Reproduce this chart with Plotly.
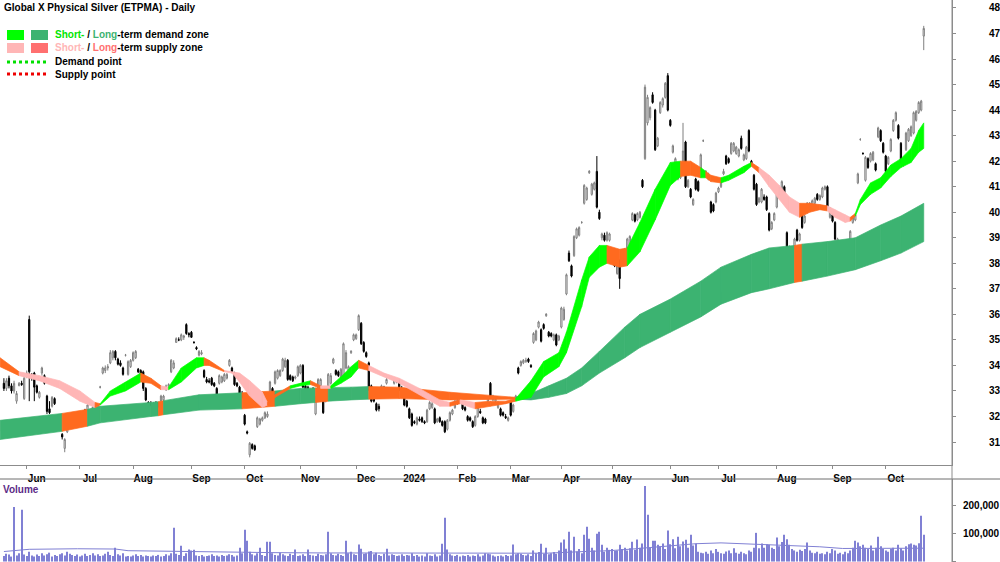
import plotly.graph_objects as go
import pandas as pd

# ---------------- DATA ----------------
START_DATE = "2023-05-19"
END_DATE = "2024-10-22"
ASX_HOLIDAYS = ["2023-06-12", "2023-12-25", "2023-12-26", "2024-01-01", "2024-01-26",
                "2024-03-29", "2024-04-01", "2024-04-25", "2024-06-10"]

month_starts = ["2023-06-01", "2023-07-01", "2023-08-01", "2023-09-01", "2023-10-01",
                "2023-11-01", "2023-12-01", "2024-01-01", "2024-02-01", "2024-03-01",
                "2024-04-01", "2024-05-01", "2024-06-01", "2024-07-01", "2024-08-01",
                "2024-09-01", "2024-10-01"]
month_labels = ["Jun", "Jul", "Aug", "Sep", "Oct", "Nov", "Dec", "2024", "Feb", "Mar",
                "Apr", "May", "Jun", "Jul", "Aug", "Sep", "Oct"]

price_ticks = list(range(31, 49))
volume_ticks = [0, 100, 200]            # thousands
volume_tick_labels = ["0", "100,000", "200,000"]

opens = [
    33.3, 33.1, 33.5, 33.2, 33.0, 32.6, 33.2, 33.3, 32.7, 33.6,
    35.8, 33.6, 33.7, 33.2, 32.75, 33.7, 33.6, 32.8, 32.3, 32.4,
    32.7, 31.85, 31.7, 31.3, 30.75, 31.4, 31.6, 31.75, 31.9, 31.95,
    32.0, 32.1, 32.25, 32.25, 32.05, 32.2, 32.25, 32.3, 33.15, 33.7,
    33.8, 33.9, 34.1, 34.3, 34.55, 34.25, 34.1, 33.9, 34.4, 33.65,
    33.95, 34.2, 34.3, 33.85, 33.8, 33.75, 33.1, 32.55, 32.5, 32.5,
    32.55, 32.5, 32.6, 32.65, 33.05, 33.2, 33.75, 33.9, 34.9, 35.0,
    35.0, 35.1, 35.6, 35.25, 35.3, 34.9, 34.7, 34.4, 34.45, 33.8,
    33.45, 33.4, 33.5, 33.3, 33.1, 33.3, 33.35, 33.4, 33.5, 34.0,
    33.9, 33.7, 33.3, 33.15, 32.9, 32.05, 31.4, 30.5, 30.9, 30.85,
    31.6, 31.7, 31.85, 31.95, 32.0, 32.75, 33.1, 33.3, 33.5, 33.6,
    33.8, 33.95, 34.2, 33.6, 33.55, 33.5, 33.6, 33.7, 34.0, 33.2,
    33.15, 33.0, 33.1, 32.1, 33.1, 33.2, 33.1, 32.6, 33.2, 33.3,
    34.1, 33.8, 33.75, 33.5, 33.55, 33.9, 33.8, 34.5, 35.0, 35.05,
    35.4, 35.65, 34.9, 34.5, 34.1, 33.2, 32.7, 32.5, 32.4, 33.0,
    33.1, 33.3, 33.1, 33.05, 33.3, 33.35, 33.4, 33.1, 32.8, 32.6,
    32.3, 32.1, 31.8, 31.7, 31.9, 31.95, 31.8, 31.8, 32.3, 32.35,
    32.3, 31.8, 31.95, 31.8, 31.8, 31.5, 31.85, 32.1, 32.35, 32.5,
    32.55, 32.55, 32.35, 32.0, 31.95, 31.8, 31.65, 32.0, 32.2, 31.95,
    31.9, 32.6, 33.3, 32.65, 32.6, 32.35, 32.3, 32.15, 32.0, 31.85,
    32.6, 32.2, 32.7, 33.9, 34.0, 34.1, 34.15, 34.25, 34.0, 34.9,
    35.0, 35.5, 35.4, 35.6, 35.95, 35.3, 35.25, 35.0, 35.2, 35.0,
    35.5, 35.8, 36.8, 38.4, 37.9, 38.3, 39.0, 39.1, 39.6, 40.35,
    40.5, 41.55, 40.7, 40.9, 41.6, 40.0, 39.0, 39.1, 38.9, 38.9,
    38.4, 38.1, 37.6, 38.1, 38.2, 38.3, 38.6, 38.7, 39.7, 39.9,
    39.7, 39.8, 41.25, 42.1, 43.5, 43.7, 44.6, 44.0, 42.6, 43.9,
    44.2, 44.5, 45.35, 43.6, 42.35, 41.8, 41.3, 41.35, 41.9, 42.75,
    41.0, 40.9, 40.3, 41.3, 41.2, 41.65, 42.8, 41.4, 41.3, 40.4,
    40.3, 40.4, 40.8, 41.0, 41.5, 42.2, 42.1, 42.3, 42.4, 42.3,
    42.2, 42.9, 42.05, 42.1, 43.2, 42.0, 41.45, 41.1, 40.4, 40.4,
    40.6, 40.6, 39.95, 39.35, 39.7, 40.2, 40.7, 40.8, 41.0, 39.2,
    38.0, 38.0, 38.6, 39.3, 38.9, 40.1, 39.6, 40.0, 40.1, 40.3,
    40.35, 40.7, 40.5, 40.6, 40.9, 41.0, 39.8, 39.9, 39.6, 38.8,
    38.7, 38.6, 38.7, 38.8, 38.9, 39.6, 39.7, 41.15, 42.85, 42.3,
    41.25, 42.1, 42.0, 42.05, 41.9, 42.95, 43.2, 42.7, 42.2, 41.9,
    42.4, 43.2, 43.6, 43.4, 42.7, 42.1, 42.45, 42.8, 43.0, 43.1,
    43.6, 43.9, 44.0, 46.9]

highs = [
    33.5, 33.5, 33.6, 33.3, 33.4, 33.0, 33.35, 33.4, 33.6, 33.8,
    35.95, 33.7, 33.75, 33.25, 33.0, 33.95, 33.65, 32.85, 32.6, 32.8,
    32.75, 31.9, 31.75, 31.35, 31.15, 31.85, 31.8, 32.15, 32.1, 32.2,
    32.15, 32.2, 32.3, 32.5, 32.1, 32.4, 32.5, 32.5, 33.2, 33.95,
    34.0, 34.05, 34.6, 34.6, 34.6, 34.3, 34.2, 33.95, 34.45, 34.2,
    34.25, 34.55, 34.6, 33.9, 33.85, 33.8, 33.15, 32.6, 32.6, 32.55,
    32.6, 32.55, 32.85, 32.85, 33.25, 33.3, 34.25, 34.2, 35.1, 35.1,
    35.25, 35.2, 35.65, 35.3, 35.35, 34.95, 34.75, 34.6, 34.6, 33.85,
    33.55, 33.5, 33.55, 33.35, 33.15, 33.65, 33.6, 33.7, 33.7, 34.25,
    33.95, 33.75, 33.35, 33.2, 33.0, 32.1, 31.45, 31.0, 30.95, 30.9,
    32.0, 31.95, 32.0, 32.2, 32.2, 33.4, 33.15, 33.8, 33.85, 33.85,
    34.3, 34.3, 34.25, 33.65, 33.6, 33.6, 34.0, 34.05, 34.05, 33.25,
    33.2, 33.1, 33.15, 32.8, 33.5, 33.5, 33.15, 32.9, 33.7, 33.7,
    34.3, 33.85, 33.8, 33.9, 34.9, 34.6, 34.0, 34.6, 35.25, 35.25,
    36.0, 35.7, 34.95, 34.55, 34.15, 33.25, 32.8, 32.55, 32.5, 33.25,
    33.2, 33.5, 33.15, 33.1, 33.5, 33.5, 33.45, 33.2, 32.85, 32.65,
    32.35, 32.15, 31.85, 32.0, 32.0, 32.0, 31.85, 32.3, 32.6, 32.6,
    32.35, 31.95, 32.0, 31.85, 31.85, 31.9, 32.2, 32.3, 32.65, 32.7,
    32.65, 32.6, 32.4, 32.05, 32.0, 31.85, 32.05, 32.4, 32.3, 32.0,
    31.95, 32.8, 33.35, 32.85, 32.75, 32.6, 32.35, 32.2, 32.1, 32.0,
    32.65, 32.5, 32.85, 33.95, 34.2, 34.25, 34.3, 34.3, 34.05, 35.3,
    35.4, 35.75, 35.45, 35.65, 36.05, 35.35, 35.3, 35.25, 35.25, 35.2,
    36.3, 36.3, 37.6, 38.5, 37.95, 39.1, 39.4, 39.45, 39.65, 41.1,
    41.0, 41.65, 41.15, 41.2, 42.2, 40.1, 39.2, 39.2, 39.25, 39.2,
    38.45, 38.15, 37.95, 38.15, 38.45, 38.6, 39.0, 39.1, 40.0, 39.95,
    40.0, 40.05, 41.3, 45.0, 44.6, 44.15, 44.7, 44.05, 42.95, 44.35,
    44.5, 45.1, 45.45, 43.65, 42.65, 42.15, 41.45, 41.5, 43.5, 42.8,
    41.3, 40.95, 40.55, 41.35, 41.25, 42.3, 42.85, 41.65, 41.55, 40.45,
    40.35, 40.8, 41.0, 41.25, 41.7, 42.25, 42.15, 42.75, 42.75, 42.6,
    42.5, 43.0, 42.3, 42.6, 43.25, 42.05, 41.5, 41.15, 40.6, 40.95,
    40.7, 40.65, 40.0, 39.65, 40.0, 40.95, 41.0, 41.25, 41.05, 39.25,
    38.7, 38.05, 39.0, 39.35, 39.2, 40.15, 39.9, 40.4, 40.4, 40.5,
    40.6, 40.75, 40.7, 41.0, 41.05, 41.05, 40.2, 39.95, 39.65, 39.0,
    38.75, 38.85, 38.8, 38.85, 39.3, 39.85, 39.95, 41.55, 42.9, 42.35,
    42.2, 42.15, 42.35, 42.4, 41.95, 43.35, 43.25, 42.75, 42.25, 42.2,
    42.9, 43.65, 43.95, 43.45, 42.75, 42.15, 43.15, 43.3, 43.4, 43.95,
    44.0, 44.35, 44.4, 47.3]

lows = [
    33.0, 33.0, 33.1, 32.9, 32.9, 32.5, 33.2, 33.2, 32.65, 33.5,
    32.6, 33.4, 32.6, 32.9, 32.7, 33.6, 33.25, 32.1, 32.1, 32.35,
    32.45, 31.75, 31.6, 31.1, 30.6, 31.35, 31.5, 31.7, 31.85, 31.9,
    31.95, 32.0, 32.0, 32.2, 31.85, 32.15, 32.2, 32.25, 33.1, 33.65,
    33.7, 33.8, 34.05, 34.2, 34.2, 34.0, 33.95, 33.6, 34.35, 33.6,
    33.9, 34.15, 34.25, 33.7, 33.6, 33.0, 32.6, 32.35, 32.4, 32.35,
    32.3, 32.35, 32.55, 32.6, 33.0, 33.15, 33.7, 33.85, 34.9, 34.95,
    34.95, 35.0, 35.2, 35.1, 35.1, 34.85, 34.6, 34.35, 34.4, 33.5,
    33.3, 33.3, 33.2, 33.15, 32.7, 33.25, 33.3, 33.35, 33.45, 33.95,
    33.7, 33.2, 33.15, 32.75, 32.7, 31.65, 31.3, 30.4, 30.7, 30.65,
    31.55, 31.65, 31.8, 31.9, 31.95, 32.7, 32.9, 33.25, 33.45, 33.55,
    33.75, 33.9, 33.4, 33.4, 33.35, 33.45, 33.55, 33.65, 33.1, 32.95,
    32.9, 32.95, 32.95, 32.05, 33.05, 33.15, 32.1, 32.55, 33.15, 33.25,
    34.05, 33.6, 33.55, 33.45, 33.5, 33.85, 33.75, 34.45, 34.95, 35.0,
    35.35, 34.8, 34.5, 34.3, 33.0, 32.55, 32.55, 32.2, 32.2, 32.95,
    33.0, 33.25, 32.95, 32.95, 33.25, 33.3, 33.0, 33.0, 32.4, 32.35,
    31.9, 31.6, 31.7, 31.65, 31.8, 31.75, 31.7, 31.75, 32.25, 32.3,
    31.7, 31.75, 31.75, 31.6, 31.35, 31.45, 31.8, 32.05, 32.3, 32.45,
    32.5, 32.25, 32.2, 31.8, 31.8, 31.55, 31.6, 31.95, 32.1, 31.7,
    31.7, 32.55, 32.75, 32.6, 32.55, 32.3, 32.0, 32.0, 31.9, 31.8,
    32.0, 32.15, 32.65, 33.65, 33.95, 34.05, 34.1, 34.1, 33.9, 34.85,
    34.95, 35.45, 34.9, 35.4, 35.9, 35.1, 35.1, 34.95, 34.75, 34.95,
    35.45, 35.75, 36.75, 38.05, 37.45, 38.25, 38.95, 39.05, 39.55, 40.3,
    40.45, 41.5, 40.65, 40.85, 40.15, 39.7, 38.9, 38.85, 38.85, 38.85,
    38.0, 37.85, 37.55, 37.0, 38.15, 38.25, 38.55, 38.65, 39.65, 39.6,
    39.65, 39.75, 40.95, 42.05, 43.4, 43.6, 44.25, 42.4, 42.55, 43.85,
    44.1, 44.45, 43.95, 43.35, 42.3, 41.75, 41.25, 41.3, 41.85, 40.95,
    40.95, 40.55, 40.25, 40.85, 40.8, 41.6, 42.75, 41.35, 41.25, 39.95,
    40.0, 40.35, 40.75, 40.95, 41.45, 41.85, 41.9, 42.25, 42.35, 42.25,
    42.15, 42.45, 42.0, 42.05, 42.35, 41.85, 40.85, 40.25, 40.35, 40.35,
    40.45, 40.05, 39.25, 39.3, 39.65, 40.15, 40.65, 40.75, 40.3, 38.2,
    37.95, 37.95, 38.55, 38.85, 38.85, 39.35, 39.55, 39.95, 40.05, 40.25,
    40.3, 40.45, 40.45, 40.55, 40.85, 40.15, 39.75, 39.6, 38.9, 38.75,
    38.45, 38.55, 38.6, 38.35, 38.85, 39.55, 39.65, 41.1, 42.8, 42.25,
    41.2, 41.7, 41.95, 42.0, 41.6, 42.9, 42.75, 42.3, 41.55, 41.85,
    42.35, 43.15, 43.55, 42.85, 41.9, 41.8, 42.4, 42.75, 42.95, 43.05,
    43.55, 43.85, 43.95, 46.35]

closes = [
    33.1, 33.4, 33.2, 33.0, 33.3, 32.9, 33.3, 33.25, 33.5, 33.7,
    33.75, 33.5, 33.15, 32.95, 32.95, 33.9, 33.3, 32.2, 32.15, 32.75,
    32.5, 31.8, 31.65, 31.2, 31.1, 31.8, 31.75, 32.1, 32.05, 32.1,
    32.1, 32.15, 32.0, 32.45, 31.9, 32.35, 32.4, 32.45, 33.15, 33.9,
    33.9, 33.95, 34.5, 34.55, 34.3, 34.05, 34.0, 33.65, 34.4, 34.15,
    34.2, 34.5, 34.55, 33.75, 33.65, 33.1, 32.65, 32.45, 32.45, 32.4,
    32.35, 32.4, 32.8, 32.8, 33.2, 33.25, 34.2, 34.1, 35.05, 35.0,
    35.2, 35.15, 35.25, 35.2, 35.1, 34.9, 34.65, 34.55, 34.5, 33.55,
    33.35, 33.35, 33.25, 33.2, 32.75, 33.6, 33.55, 33.65, 33.65, 34.2,
    33.75, 33.25, 33.2, 32.8, 32.75, 31.7, 31.35, 30.95, 30.75, 30.7,
    31.95, 31.9, 31.95, 32.15, 32.1, 33.35, 32.95, 33.75, 33.8, 33.8,
    34.25, 34.2, 33.45, 33.45, 33.4, 33.55, 33.95, 34.0, 33.15, 33.0,
    32.95, 33.05, 33.0, 32.75, 33.45, 33.45, 32.15, 32.85, 33.65, 33.6,
    34.25, 33.65, 33.6, 33.85, 34.85, 34.5, 33.95, 34.55, 35.2, 35.2,
    35.95, 34.85, 34.55, 34.35, 33.05, 32.6, 32.6, 32.25, 32.3, 33.2,
    33.05, 33.45, 33.0, 33.0, 33.45, 33.45, 33.05, 33.05, 32.45, 32.4,
    31.95, 31.65, 31.75, 31.95, 31.85, 31.8, 31.75, 32.25, 32.55, 32.5,
    31.75, 31.9, 31.8, 31.65, 31.4, 31.85, 32.15, 32.25, 32.6, 32.65,
    32.6, 32.3, 32.25, 31.85, 31.85, 31.6, 32.0, 32.35, 32.15, 31.75,
    31.75, 32.75, 32.8, 32.8, 32.7, 32.55, 32.05, 32.05, 31.95, 31.95,
    32.05, 32.45, 32.8, 33.7, 34.15, 34.2, 34.2, 34.15, 33.95, 35.25,
    35.35, 35.7, 34.95, 35.45, 36.0, 35.15, 35.15, 35.2, 34.8, 35.15,
    36.25, 36.2, 37.55, 38.1, 37.5, 39.05, 39.35, 39.4, 39.6, 41.05,
    40.95, 41.6, 41.1, 41.15, 40.2, 39.75, 39.15, 38.9, 39.2, 39.15,
    38.05, 37.9, 37.9, 37.4, 38.4, 38.55, 38.95, 39.05, 39.95, 39.65,
    39.95, 40.0, 41.0, 44.9, 44.5, 44.1, 44.3, 42.45, 42.9, 44.3,
    44.45, 45.05, 44.0, 43.4, 42.6, 42.1, 41.4, 41.45, 42.4, 41.0,
    41.25, 40.6, 40.5, 40.9, 40.85, 42.25, 42.8, 41.6, 41.5, 40.0,
    40.05, 40.75, 40.95, 41.2, 41.6, 41.9, 41.95, 42.7, 42.7, 42.55,
    42.45, 42.5, 42.25, 42.55, 42.4, 41.9, 40.9, 40.3, 40.55, 40.9,
    40.5, 40.1, 39.3, 39.6, 39.95, 40.9, 40.95, 41.2, 40.35, 38.25,
    38.65, 38.0, 38.95, 38.9, 39.15, 39.4, 39.85, 40.35, 40.35, 40.45,
    40.55, 40.5, 40.65, 40.95, 41.0, 40.2, 40.15, 39.65, 38.95, 38.95,
    38.5, 38.8, 38.65, 38.4, 39.25, 39.8, 39.9, 41.5, 42.85, 42.3,
    42.15, 41.75, 42.3, 42.35, 41.65, 43.3, 42.8, 42.35, 41.6, 42.15,
    42.85, 43.6, 43.9, 42.9, 41.95, 41.85, 43.1, 43.25, 43.35, 43.9,
    43.95, 44.3, 44.35, 47.2]

# volume in thousands of units
volumes_k = [
    20, 28, 25, 18, 196, 22, 30, 186, 25, 20,
    35, 22, 18, 25, 20, 30, 22, 26, 32, 18,
    24, 20, 26, 30, 22, 35, 28, 24, 20, 25,
    18, 22, 28, 20, 24, 30, 22, 26, 20, 22,
    28, 35, 24, 20, 50, 26, 22, 30, 18, 20,
    18, 22, 26, 20, 24, 18, 22, 20, 18, 22,
    20, 24, 18, 20, 26, 22, 30, 121, 28, 24,
    57, 20, 30, 43, 40, 42, 22, 20, 24, 18,
    20, 22, 26, 20, 22, 18, 24, 20, 22, 26,
    24, 18, 22, 50, 30, 114, 75, 35, 26, 22,
    30, 50, 24, 20, 71, 71, 30, 24, 22, 32,
    26, 22, 20, 28, 24, 43, 20, 22, 26, 20,
    43, 24, 22, 20, 28, 24, 22, 26, 107, 30,
    24, 22, 28, 24, 20, 75, 30, 35, 26, 24,
    61, 46, 28, 30, 36, 38, 26, 32, 24, 20,
    28, 46, 22, 26, 24, 20, 22, 26, 20, 24,
    22, 30, 20, 24, 18, 22, 18, 30, 22, 20,
    26, 18, 22, 64, 157, 43, 26, 22, 20, 24,
    18, 22, 20, 24, 18, 22, 20, 26, 18, 22,
    30, 28, 26, 22, 18, 20, 22, 18, 24, 20,
    22, 61, 26, 30, 28, 24, 22, 26, 20, 40,
    30, 34, 64, 28, 50, 26, 30, 34, 28, 40,
    68, 79, 46, 107, 40, 89, 36, 45, 30, 96,
    125, 82, 50, 40, 100, 107, 60, 35, 50, 42,
    45, 38, 40, 60, 45, 50, 40, 48, 71, 42,
    79, 50, 65, 271, 168, 50, 75, 75, 60, 55,
    65, 45, 111, 62, 80, 48, 89, 55, 72, 78,
    50, 96, 58, 65, 35, 32, 30, 35, 28, 40,
    30, 45, 35, 30, 28, 36, 40, 30, 48, 32,
    28, 35, 30, 26, 40, 35, 50, 103, 48, 65,
    50, 62, 60, 50, 45, 86, 55, 70, 96, 80,
    60, 45, 40, 35, 42, 38, 45, 68, 40, 32,
    30, 35, 28, 30, 26, 35, 30, 45, 40, 28,
    32, 26, 35, 30, 40, 50, 75, 68, 55, 60,
    50, 45, 58, 40, 50, 89, 55, 45, 40, 35,
    45, 50, 40, 60, 48, 40, 55, 62, 65, 60,
    58, 66, 164, 96]

# volume moving-average line, sampled (bar index, thousands)
vol_ma_idx = [0, 10, 29, 44, 49, 68, 88, 107, 126, 146, 165, 185, 200, 214, 229,
              239, 248, 255, 263, 273, 283, 292, 302, 312, 322, 331, 341, 351, 363]
vol_ma_val = [36, 44, 46, 45, 39, 36, 33, 32, 31, 31, 30, 30, 29, 30, 36,
              39, 45, 50, 58, 64, 67, 64, 62, 57, 53, 47, 48, 48, 48]

# Short-term zone (bar index, upper, lower, zone type of following segment)
st_idx = [-1.5, 6, 14, 22, 30, 36, 38, 42, 48, 54, 58, 62, 65, 70, 76, 79, 81, 87, 90,
          93, 97, 102, 104, 107, 113, 117, 121, 125, 129, 133, 137, 140, 144, 150,
          156, 164, 172, 176, 180, 186, 192, 198, 202, 208, 213, 219, 222, 228, 231,
          235, 238, 243, 246, 251, 257, 263, 267, 271, 275, 277, 279, 283, 286, 292,
          295, 298, 302, 306, 310, 314, 318, 322, 325, 328, 332, 334, 336, 338, 342,
          346, 350, 354, 358, 361, 363]
st_top = [34.3, 33.75, 33.6, 33.4, 33.0, 32.55, 32.5, 33.0, 33.35, 33.7, 33.5, 33.2,
          33.15, 33.9, 34.3, 34.3, 34.2, 33.8, 33.75, 33.7, 33.4, 32.95, 32.55, 32.85,
          33.2, 33.3, 33.4, 33.2, 33.2, 33.55, 33.95, 34.2, 34.0, 33.7, 33.5, 33.1,
          32.65, 32.55, 32.65, 32.55, 32.6, 32.6, 32.7, 33.4, 34.15, 34.5, 35.3, 37.35,
          38.25, 38.7, 38.7, 38.55, 38.6, 39.6, 40.9, 41.95, 42.0, 42.0, 41.75, 41.6,
          41.45, 41.35, 41.45, 41.8, 41.95, 41.75, 41.45, 41.05, 40.6, 40.35, 40.35,
          40.3, 40.25, 40.1, 39.9, 39.8, 39.95, 40.5, 41.15, 41.35, 41.85, 42.1, 42.5,
          43.2, 43.5]
st_bot = [33.95, 33.6, 33.4, 33.1, 32.6, 32.35, 32.45, 32.8, 33.0, 33.35, 33.3, 33.05,
          33.05, 33.35, 33.9, 34.0, 34.0, 33.75, 33.7, 33.35, 32.8, 32.35, 32.45, 32.75,
          33.1, 33.2, 33.25, 33.1, 33.1, 33.3, 33.55, 33.9, 33.8, 33.55, 33.3, 32.85,
          32.4, 32.4, 32.5, 32.3, 32.4, 32.5, 32.6, 32.75, 33.55, 33.95, 34.5, 36.3,
          37.45, 37.85, 38.0, 37.85, 37.9, 38.45, 39.7, 41.05, 41.4, 41.45, 41.35,
          41.35, 41.2, 41.15, 41.25, 41.55, 41.8, 41.55, 41.0, 40.5, 40.0, 39.8, 40.0,
          40.1, 40.05, 39.8, 39.6, 39.65, 39.85, 40.3, 40.7, 40.95, 41.4, 41.75, 41.95,
          42.35, 42.5]
st_zone = ["o", "p", "p", "p", "p", "o", "g", "g", "g", "o", "o", "p", "g", "g", "g",
           "o", "o", "p", "p", "p", "p", "p", "o", "o", "g", "g", "o", "p", "g", "g",
           "g", "o", "p", "p", "p", "p", "p", "o", "p", "o", "o", "o", "g", "g", "g",
           "g", "g", "g", "g", "g", "o", "o", "g", "g", "g", "g", "o", "o", "g", "o",
           "o", "g", "g", "g", "o", "p", "p", "p", "p", "o", "o", "o", "p", "p", "p",
           "o", "g", "g", "g", "g", "g", "g", "g", "g", "g"]

# Long-term zone
lt_idx = [-1.5, 23, 33, 38, 58, 61, 63, 77, 94, 107, 117, 123, 128, 137, 144, 156,
          176, 202, 208, 215, 222, 228, 235, 245, 251, 263, 275, 283, 295, 302, 312,
          315, 325, 336, 346, 354, 363]
lt_top = [31.85, 32.12, 32.28, 32.4, 32.55, 32.58, 32.62, 32.85, 32.93, 33.0, 33.1,
          33.12, 33.13, 33.15, 33.17, 33.15, 32.95, 32.75, 32.9, 33.2, 33.5, 33.9,
          34.55, 35.5, 36.0, 36.6, 37.3, 37.85, 38.35, 38.6, 38.7, 38.75, 38.85, 39.0,
          39.5, 39.85, 40.35]
lt_bot = [31.1, 31.42, 31.62, 31.75, 32.0, 32.03, 32.07, 32.25, 32.3, 32.4, 32.5,
          32.55, 32.6, 32.65, 32.68, 32.7, 32.65, 32.68, 32.65, 32.75, 32.9, 33.2,
          33.7, 34.3, 34.7, 35.3, 35.9, 36.4, 36.85, 37.0, 37.25, 37.3, 37.5, 37.75,
          38.1, 38.4, 38.85]
lt_zone = ["g", "o", "g", "g", "g", "o", "g", "g", "o", "g", "g", "o", "g", "g", "o",
           "o", "o", "g", "g", "g", "g", "g", "g", "g", "g", "g", "g", "g", "g", "g",
           "o", "g", "g", "g", "g", "g", "g"]

# ---------------- STYLE ----------------
FONT = "Liberation Sans, Arial, sans-serif"
SHORT_COL = {"g": "#00FF00", "p": "#FFB6B6", "o": "#FF6A1F"}
LONG_COL = {"g": "#3CB371", "o": "#FF6A1F"}
VOL_COL = "#8080D4"
W, H = 1000, 562
PLOT_W = 952


def px_x(p):
    return p / PLOT_W


def px_y(p):
    return 1 - p / H


# ---------------- BUILD ----------------
dates = [d for d in pd.bdate_range(START_DATE, END_DATE) if d.strftime("%Y-%m-%d") not in ASX_HOLIDAYS]
n = len(dates)
bars = list(range(n))
date_index = pd.DatetimeIndex(dates)
tick_pos = [int(date_index.searchsorted(pd.Timestamp(m))) for m in month_starts]

fig = go.Figure()


def add_band(xs, tops, bots, zones, cmap):
    for k in range(len(xs) - 1):
        c = cmap[zones[k]]
        fig.add_trace(go.Scatter(
            x=[xs[k], xs[k + 1], xs[k + 1], xs[k], xs[k]],
            y=[tops[k], tops[k + 1], bots[k + 1], bots[k], tops[k]],
            mode="lines", fill="toself", fillcolor=c,
            line=dict(color=c, width=0.7), hoverinfo="skip", showlegend=False,
            xaxis="x", yaxis="y"))


add_band(lt_idx, lt_top, lt_bot, lt_zone, LONG_COL)
add_band(st_idx, st_top, st_bot, st_zone, SHORT_COL)

fig.add_trace(go.Candlestick(
    x=bars, open=opens, high=highs, low=lows, close=closes,
    increasing=dict(line=dict(color="#7f7f7f", width=1), fillcolor="#FFFFFF"),
    decreasing=dict(line=dict(color="#000000", width=1), fillcolor="#000000"),
    whiskerwidth=0, showlegend=False, hoverinfo="skip", xaxis="x", yaxis="y"))

fig.add_trace(go.Bar(
    x=bars, y=volumes_k, marker=dict(color=VOL_COL, line=dict(width=0)),
    width=0.42, showlegend=False, hoverinfo="skip", xaxis="x2", yaxis="y2"))
fig.add_trace(go.Scatter(
    x=vol_ma_idx, y=vol_ma_val, mode="lines", line=dict(color=VOL_COL, width=1),
    showlegend=False, hoverinfo="skip", xaxis="x2", yaxis="y2"))

x_range = [(0 - 3.9) / 2.534, (PLOT_W - 3.9) / 2.534]
tickfont = dict(family=FONT, size=10, color="#000000", weight="bold")

fig.update_layout(
    width=W, height=H, autosize=False,
    margin=dict(l=0, r=W - PLOT_W, t=0, b=0),
    paper_bgcolor="#FFFFFF", plot_bgcolor="#FFFFFF",
    hovermode=False, showlegend=False,
    xaxis=dict(domain=[0, 1], range=x_range, anchor="y", showgrid=False, zeroline=False,
               showline=True, linecolor="#8c8c8c", linewidth=1,
               tickmode="array", tickvals=tick_pos, ticktext=month_labels,
               ticks="outside", ticklen=3, tickcolor="#8c8c8c",
               tickfont=tickfont, ticklabelshift=10, ticklabelstandoff=1,
               rangeslider=dict(visible=False), fixedrange=True),
    yaxis=dict(domain=[px_y(465), 1], range=[30.10, 48.313], side="right",
               showgrid=False, zeroline=False, showline=True, linecolor="#8c8c8c",
               tickmode="array", tickvals=price_ticks, ticks="outside", ticklen=3,
               tickcolor="#8c8c8c", tickfont=tickfont, ticklabelstandoff=31,
               fixedrange=True),
    xaxis2=dict(domain=[0, 1], range=x_range, anchor="y2", showgrid=False,
                zeroline=False, showline=False, showticklabels=False, ticks="",
                fixedrange=True),
    yaxis2=dict(domain=[0, px_y(479)], range=[-1.5, 296], side="right", anchor="x2",
                showgrid=False, zeroline=False, showline=True, linecolor="#8c8c8c",
                tickmode="array", tickvals=volume_ticks, ticktext=volume_tick_labels,
                ticks="outside", ticklen=3, tickcolor="#8c8c8c", tickfont=tickfont,
                ticklabelstandoff=5, fixedrange=True),
)

shapes = [
    # separator above volume panel (full width)
    dict(type="line", xref="paper", yref="paper", x0=0, x1=W / PLOT_W,
         y0=px_y(479), y1=px_y(479), line=dict(color="#6e6e6e", width=1)),
    # right axis line across the gap
    dict(type="line", xref="paper", yref="paper", x0=1, x1=1, y0=0, y1=1,
         line=dict(color="#8c8c8c", width=1)),
    # legend boxes
    dict(type="rect", xref="paper", yref="paper", x0=px_x(7), x1=px_x(24),
         y0=px_y(40), y1=px_y(30), fillcolor="#00FF00", line=dict(width=0)),
    dict(type="rect", xref="paper", yref="paper", x0=px_x(31), x1=px_x(48),
         y0=px_y(40), y1=px_y(30), fillcolor="#3CB371", line=dict(width=0)),
    dict(type="rect", xref="paper", yref="paper", x0=px_x(7), x1=px_x(24),
         y0=px_y(53), y1=px_y(43), fillcolor="#FFB6B6", line=dict(width=0)),
    dict(type="rect", xref="paper", yref="paper", x0=px_x(31), x1=px_x(48),
         y0=px_y(53), y1=px_y(43), fillcolor="#FF7070", line=dict(width=0)),
    dict(type="line", xref="paper", yref="paper", x0=px_x(7), x1=px_x(46),
         y0=px_y(62), y1=px_y(62), line=dict(color="#00E000", width=3, dash="dot")),
    dict(type="line", xref="paper", yref="paper", x0=px_x(7), x1=px_x(46),
         y0=px_y(74), y1=px_y(74), line=dict(color="#EE0000", width=3, dash="dot")),
]
fig.update_layout(shapes=shapes)


def ann(text, x, y, color="#000000"):
    return dict(text=text, xref="paper", yref="paper", x=px_x(x), y=px_y(y),
                xanchor="left", yanchor="middle", showarrow=False,
                font=dict(family=FONT, size=10, color=color))


annotations = [
    ann("<b>Global X Physical Silver (ETPMA) - Daily</b>", 2, 8),
    ann("<b><span style='color:#00E600'>Short-</span> / "
        "<span style='color:#3CB371'>Long</span>-term demand zone</b>", 53, 35),
    ann("<b><span style='color:#FFB6B6'>Short-</span> / "
        "<span style='color:#FF7070'>Long</span>-term supply zone</b>", 53, 48),
    ann("<b>Demand point</b>", 53, 62),
    ann("<b>Supply point</b>", 53, 74),
    ann("<b>Volume</b>", 1, 489, color="#5B2A86"),
]
fig.update_layout(annotations=annotations)

fig.write_html("out.html")
